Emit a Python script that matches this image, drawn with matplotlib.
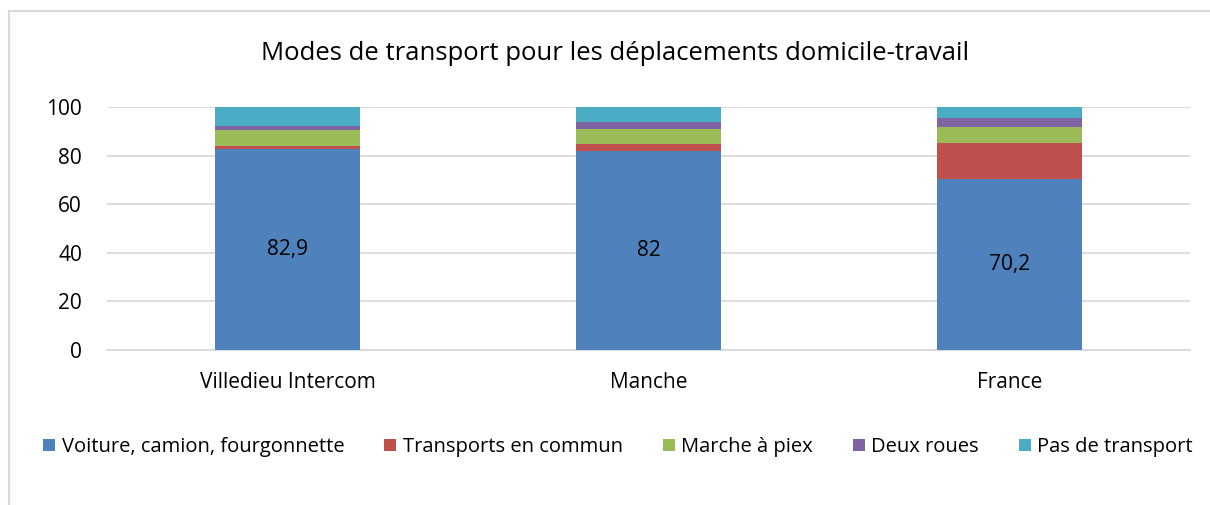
import matplotlib.pyplot as plt
from matplotlib.patches import Rectangle
import numpy as np

plt.rcParams['font.family'] = ['Open Sans', 'DejaVu Sans']

# Data (percent of commuters by transport mode)
territoires = ['Villedieu Intercom', 'Manche', 'France']
voiture = [82.9, 82.0, 70.2]
transports_commun = [1.0, 2.7, 15.0]
marche = [6.8, 6.3, 6.6]
deux_roues = [1.3, 2.9, 3.7]
pas_transport = [8.0, 6.1, 4.5]

series = [
    ('Voiture, camion, fourgonnette', voiture, '#4F81BD'),
    ('Transports en commun', transports_commun, '#C0504D'),
    ('Marche à piex', marche, '#9BBB59'),
    ('Deux roues', deux_roues, '#8064A2'),
    ('Pas de transport', pas_transport, '#4BACC6'),
]

fig = plt.figure(figsize=(12.1, 5.05), dpi=100)
ax = fig.add_axes([107 / 1210, 1 - 350 / 505, 1083 / 1210, 243 / 505])

# Light frame around the chart area
fig.patches.append(Rectangle((8.5 / 1210, -0.1), 1.2, (505 - 10.5) / 505 + 0.1,
                             transform=fig.transFigure, fill=False,
                             edgecolor='#D9D9D9', linewidth=1.5))

x = np.arange(len(territoires))
bottom = np.zeros(len(territoires))
bars_voiture = None
for name, vals, color in series:
    b = ax.bar(x, vals, width=0.40, bottom=bottom, color=color, label=name, zorder=3)
    if bars_voiture is None:
        bars_voiture = b
    bottom += np.array(vals)

# Value labels on the car segment
for rect, v in zip(bars_voiture, voiture):
    txt = f'{v:g}'.replace('.', ',')
    ax.text(rect.get_x() + rect.get_width() / 2, v / 2, txt,
            ha='center', va='center', fontsize=15, color='black', zorder=4)

ax.set_xlim(-0.5, 2.5)
ax.set_ylim(0, 100)
ax.set_yticks([0, 20, 40, 60, 80, 100])
ax.set_xticks(x)
ax.set_xticklabels(territoires)
ax.tick_params(axis='both', length=0, labelsize=15)
ax.tick_params(axis='y', pad=18)
ax.tick_params(axis='x', pad=16)
ax.grid(axis='y', color='#D9D9D9', linewidth=1.3, zorder=0)
for side in ['top', 'right', 'left']:
    ax.spines[side].set_visible(False)
ax.spines['bottom'].set_color('#D9D9D9')
ax.spines['bottom'].set_linewidth(1.3)

fig.text(615 / 1210, 1 - 54 / 505, 'Modes de transport pour les déplacements domicile-travail',
         ha='center', va='center', fontsize=18.5)

fig.legend(loc='center', bbox_to_anchor=(618 / 1210, 1 - 447 / 505), ncol=5,
           frameon=False, fontsize=14.5, handlelength=0.6, handleheight=0.6,
           handletextpad=0.3, columnspacing=2.0)

fig.savefig('out.png', dpi=100)
